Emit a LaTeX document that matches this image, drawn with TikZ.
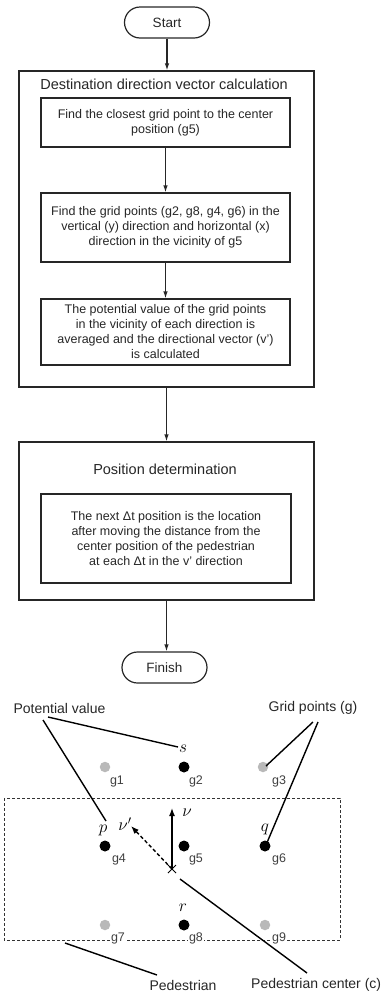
\documentclass[tikz,border=0pt]{standalone}
\usepackage{fontspec}
\setmainfont{Liberation Sans}
\usetikzlibrary{shapes.misc,arrows.meta}
\begin{document}
\begin{tikzpicture}[x=1pt,y=-1pt,
  line/.style={draw=black!85,line width=1.2pt},
  arr/.style={line,-{Latex[length=7pt,width=4.5pt]}},
  term/.style={line,rounded rectangle,minimum width=85pt,minimum height=31pt,inner sep=0pt,font=\fontsize{13.5}{15}\selectfont,text=black!85},
  outer/.style={line,rectangle,inner sep=0pt},
  inner/.style={line,rectangle,inner sep=0pt,minimum width=249pt,align=center,font=\fontsize{12.5}{15}\selectfont,text=black!85},
  ttl/.style={font=\fontsize{14.5}{16}\selectfont,text=black!85,inner sep=0pt},
  lbl/.style={font=\fontsize{14}{16}\selectfont,text=black!85,inner sep=0pt},
  blk/.style={circle,fill=black,inner sep=0pt,minimum size=11pt},
  gry/.style={circle,fill=gray!55,inner sep=0pt,minimum size=10.5pt},
  gl/.style={font=\fontsize{12.5}{14}\selectfont,text=black!75,inner sep=1pt,fill=white},
  ml/.style={font=\fontsize{17}{18}\selectfont,inner sep=0pt},
  lead/.style={draw=black,line width=1.4pt}
]
\useasboundingbox (0,0) rectangle (383,994);

% flowchart
\node[term] (start) at (167,22.5) {Start};
\node[outer,minimum width=295pt,minimum height=316pt] (outer1) at (166.5,229) {};
\node[ttl] (t1) at (164,84) {Destination direction vector calculation};
\node[inner,minimum height=49pt] (b1) at (165.5,122.5) {Find the closest grid point to the center\\position (g5)};
\node[inner,minimum height=69pt] (b2) at (165.5,227.5) {Find the grid points (g2, g8, g4, g6) in the\\vertical (y) direction and horizontal (x)\\direction in the vicinity of g5};
\node[inner,minimum height=66pt] (b3) at (165.5,332) {The potential value of the grid points\\in the vicinity of each direction is\\averaged and the directional vector (v’)\\is calculated};
\node[outer,minimum width=295pt,minimum height=158pt] (outer2) at (166.5,521) {};
\node[ttl] (t2) at (165,469) {Position determination};
\node[inner,minimum width=250pt,minimum height=89pt] (b4) at (166,538.5) {The next Δt position is the location\\after moving the distance from the\\center position of the pedestrian\\at each Δt in the v’ direction};
\node[term] (finish) at (164.5,667.5) {Finish};

\draw[arr] (start.south) -- (start.south |- outer1.north);
\draw[arr] (b1.south) -- (b2.north);
\draw[arr] (b2.south) -- (b3.north);
\draw[arr] (outer1.south) -- (outer2.north);
\draw[arr] (outer2.south) -- (outer2.south |- finish.north);

% grid diagram
\draw[line width=0.9pt,black!80,dash pattern=on 3pt off 2pt] (4,798) rectangle (340,940);

\node[gry] (g1) at (105,767) {};
\node[blk] (g2) at (184,767) {};
\node[gry] (g3) at (263,767) {};
\node[blk] (g4) at (105,846) {};
\node[blk] (g5) at (184,846) {};
\node[blk] (g6) at (265,846) {};
\node[gry] (g7) at (105,925) {};
\node[blk] (g8) at (184,925) {};
\node[gry] (g9) at (265,925) {};

\node[gl] at (117,781) {g1};
\node[gl] at (196,781) {g2};
\node[gl] at (279,781) {g3};
\node[gl] at (119,859) {g4};
\node[gl] at (196,859) {g5};
\node[gl] at (279,859) {g6};
\node[gl] at (118,938) {g7};
\node[gl] at (196,938) {g8};
\node[gl] at (279,938) {g9};

\node[ml] (s) at (183,749) {$s$};
\node[ml] (p) at (103,830) {$p$};
\node[ml] (q) at (265,829) {$q$};
\node[ml] (r) at (183,908) {$r$};
\node[ml] (nu) at (187,813) {$\nu$};
\node[ml] (nup) at (125,824) {$\nu'$};

\coordinate (c) at (172,869);
\coordinate (vtip) at (172,808);
\coordinate (vptip) at (131,826);
\draw[line width=1.4pt,-{Latex[length=8pt,width=6pt]}] (c) -- (vtip);
\draw[line width=1.4pt,dash pattern=on 3.5pt off 2.5pt,-{Latex[length=8pt,width=6pt]}] (c) -- (vptip);
\draw[line width=1pt] (168,865) -- (176,873) (176,865) -- (168,873);

\node[lbl] (pv) at (59.5,708) {Potential value};
\node[lbl] (gp) at (313,708) {Grid points (g)};
\node[lbl] (ped) at (183,985) {Pedestrian};
\node[lbl,anchor=west] (pc) at (251,985) {Pedestrian center (c)};

\coordinate (pv1) at (43,720);
\coordinate (pv2) at (48,717);
\coordinate (pend) at (106,821);
\coordinate (send) at (178,747);
\coordinate (gp1) at (313,722);
\coordinate (gp2) at (318,722);
\coordinate (g3e) at (266,766);
\coordinate (g6e) at (266,845);
\coordinate (pd1) at (65,943);
\coordinate (pd2) at (157,975);
\coordinate (pc1) at (180,879);
\coordinate (pc2) at (307,973);

\draw[lead] (pv1) -- (pend);
\draw[lead] (pv2) -- (send);
\draw[lead] (gp1) -- (g3e);
\draw[lead] (gp2) -- (g6e);
\draw[lead] (pd1) -- (pd2);
\draw[lead] (pc1) -- (pc2);
\end{tikzpicture}
\end{document}
